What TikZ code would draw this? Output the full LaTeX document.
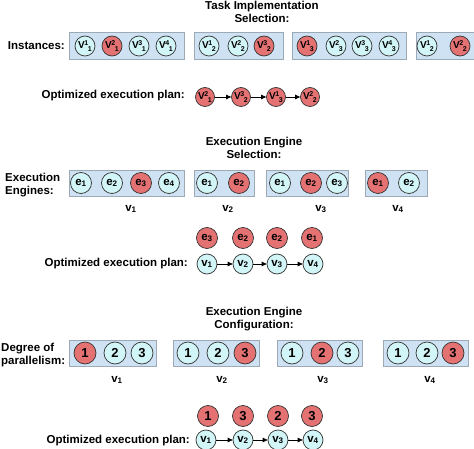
\documentclass[tikz,border=0pt]{standalone}
\usepackage{fontspec}
\setmainfont{Liberation Sans}
\usetikzlibrary{arrows.meta}
\definecolor{boxfill}{HTML}{CFE2F3}
\definecolor{boxline}{HTML}{9DAAB5}
\definecolor{cyanfill}{HTML}{D2F5F7}
\definecolor{redfill}{HTML}{E57272}
\newcommand\smallidx[1]{{\fontsize{7}{7}\selectfont #1}}
\newcommand\myvss[2]{V\kern-0.3pt\raisebox{3pt}{\smallidx{#1}}\kern-0.4pt\raisebox{-2.5pt}{\smallidx{#2}}}
\tikzset{
 grp/.style={draw=boxline, fill=boxfill, line width=0.8pt},
 cc/.style={circle, draw=black!80, line width=0.7pt, fill=cyanfill, minimum size=20pt, inner sep=0pt, font=\bfseries\fontsize{10}{10}\selectfont},
 rc/.style={cc, fill=redfill},
 big/.style={minimum size=22pt, font=\bfseries\fontsize{13}{13}\selectfont},
 ee/.style={minimum size=21pt, font=\bfseries\fontsize{11.5}{11.5}\selectfont},
 lbl/.style={font=\bfseries\fontsize{11.5}{13}\selectfont, inner sep=0pt},
 arr/.style={-{Triangle[length=5pt,width=4.5pt]}, line width=0.7pt},
}
\begin{document}
\begin{tikzpicture}[x=1pt,y=-1pt]
\useasboundingbox (0,0) rectangle (474,449);
% ---------- Section 1 ----------
\node[lbl, align=center] (t1) at (262,11.5) {Task Implementation\\Selection:};
\node[lbl, anchor=east] (inst) at (65,46) {Instances:};
\draw[grp] (69,32) rectangle (184,59);
\draw[grp] (194,32) rectangle (283,59);
\draw[grp] (292,32) rectangle (406,59);
\draw[grp] (416,32) rectangle (480,59);
\node[cc] (a11) at (85,46) {\myvss11};
\node[rc] (a21) at (112,46) {\myvss21};
\node[cc] (a31) at (139,46) {\myvss31};
\node[cc] (a41) at (166,46) {\myvss41};
\node[cc] (a12) at (209,46) {\myvss12};
\node[cc] (a22) at (238,46) {\myvss22};
\node[rc] (a32) at (264,46) {\myvss32};
\node[rc] (a13) at (307,46) {\myvss13};
\node[cc] (a23) at (336,46) {\myvss23};
\node[cc] (a33) at (362,46) {\myvss33};
\node[cc] (a43) at (389,46) {\myvss43};
\node[cc] (b12) at (427,46) {\myvss12};
\node[rc] (b22) at (460,46) {\myvss22};
\node[lbl, anchor=east] (p1) at (185,96) {Optimized execution plan:};
\node[rc, minimum size=19pt] (q1) at (205,97) {\myvss21};
\node[rc, minimum size=19pt] (q2) at (241,97) {\myvss32};
\node[rc, minimum size=19pt] (q3) at (276,97) {\myvss13};
\node[rc, minimum size=19pt] (q4) at (310,97) {\myvss22};
\draw[arr] (q1) -- (q2);
\draw[arr] (q2) -- (q3);
\draw[arr] (q3) -- (q4);
% ---------- Section 2 ----------
\node[lbl, align=center] (t2) at (254,148) {Execution Engine\\Selection:};
\node[lbl, align=left, anchor=west] (eng) at (5,185) {Execution\\Engines:};
\draw[grp] (69,170) rectangle (184,196);
\draw[grp] (194,170) rectangle (254,196);
\draw[grp] (266,170) rectangle (348,196);
\draw[grp] (365,170) rectangle (427,196);
\node[cc, ee] (e11) at (81,183) {e\textsubscript{1}};
\node[cc, ee] (e21) at (112,183) {e\textsubscript{2}};
\node[rc, ee] (e31) at (141,183) {e\textsubscript{3}};
\node[cc, ee] (e41) at (169,183) {e\textsubscript{4}};
\node[cc, ee] (e12) at (207,183) {e\textsubscript{1}};
\node[rc, ee] (e22) at (239,183) {e\textsubscript{2}};
\node[cc, ee] (e13) at (280,183) {e\textsubscript{1}};
\node[rc, ee] (e23) at (311,183) {e\textsubscript{2}};
\node[cc, ee] (e33) at (337,183) {e\textsubscript{3}};
\node[rc, ee] (e14) at (378,183) {e\textsubscript{1}};
\node[cc, ee] (e24) at (409,183) {e\textsubscript{2}};
\node[lbl] (v21) at (131,209) {v\textsubscript{1}};
\node[lbl] (v22) at (228,209) {v\textsubscript{2}};
\node[lbl] (v23) at (321,209) {v\textsubscript{3}};
\node[lbl] (v24) at (398,209) {v\textsubscript{4}};
\node[rc, ee] (s1) at (207,238) {e\textsubscript{3}};
\node[rc, ee] (s2) at (243,238) {e\textsubscript{2}};
\node[rc, ee] (s3) at (277,238) {e\textsubscript{2}};
\node[rc, ee] (s4) at (312,238) {e\textsubscript{1}};
\node[lbl, anchor=east] (p2) at (188,264) {Optimized execution plan:};
\node[cc, ee, minimum size=20pt] (r1) at (207,264) {v\textsubscript{1}};
\node[cc, ee, minimum size=20pt] (r2) at (243,264) {v\textsubscript{2}};
\node[cc, ee, minimum size=20pt] (r3) at (277,264) {v\textsubscript{3}};
\node[cc, ee, minimum size=20pt] (r4) at (313,264) {v\textsubscript{4}};
\draw[arr] (r1) -- (r2);
\draw[arr] (r2) -- (r3);
\draw[arr] (r3) -- (r4);
% ---------- Section 3 ----------
\node[lbl, align=center] (t3) at (254,319) {Execution Engine\\Configuration:};
\node[lbl, align=left, anchor=west] (deg) at (1,355) {Degree of\\parallelism:};
\draw[grp] (69,340) rectangle (156,366);
\draw[grp] (173,340) rectangle (259,366);
\draw[grp] (277,340) rectangle (362,366);
\draw[grp] (383,340) rectangle (468,366);
\node[rc, big] (d11) at (85,353) {1};
\node[cc, big] (d21) at (115,353) {2};
\node[cc, big] (d31) at (142,353) {3};
\node[cc, big] (d12) at (188,353) {1};
\node[cc, big] (d22) at (218,353) {2};
\node[rc, big] (d32) at (245,353) {3};
\node[cc, big] (d13) at (292,353) {1};
\node[rc, big] (d23) at (322,353) {2};
\node[cc, big] (d33) at (348,353) {3};
\node[cc, big] (d14) at (398,353) {1};
\node[cc, big] (d24) at (427,353) {2};
\node[rc, big] (d34) at (453,353) {3};
\node[lbl] (v31) at (117,380) {v\textsubscript{1}};
\node[lbl] (v32) at (222,380) {v\textsubscript{2}};
\node[lbl] (v33) at (323,380) {v\textsubscript{3}};
\node[lbl] (v34) at (430,380) {v\textsubscript{4}};
\node[rc, big, minimum size=21pt] (u1) at (208,416) {1};
\node[rc, big, minimum size=21pt] (u2) at (243,416) {3};
\node[rc, big, minimum size=21pt] (u3) at (278,416) {2};
\node[rc, big, minimum size=21pt] (u4) at (312,416) {3};
\node[lbl, anchor=east] (p3) at (190,441) {Optimized execution plan:};
\node[cc, ee, minimum size=20pt] (w1) at (206,440) {v\textsubscript{1}};
\node[cc, ee, minimum size=20pt] (w2) at (243,440) {v\textsubscript{2}};
\node[cc, ee, minimum size=20pt] (w3) at (278,440) {v\textsubscript{3}};
\node[cc, ee, minimum size=20pt] (w4) at (313,440) {v\textsubscript{4}};
\draw[arr] (w1) -- (w2);
\draw[arr] (w2) -- (w3);
\draw[arr] (w3) -- (w4);
\end{tikzpicture}
\end{document}
